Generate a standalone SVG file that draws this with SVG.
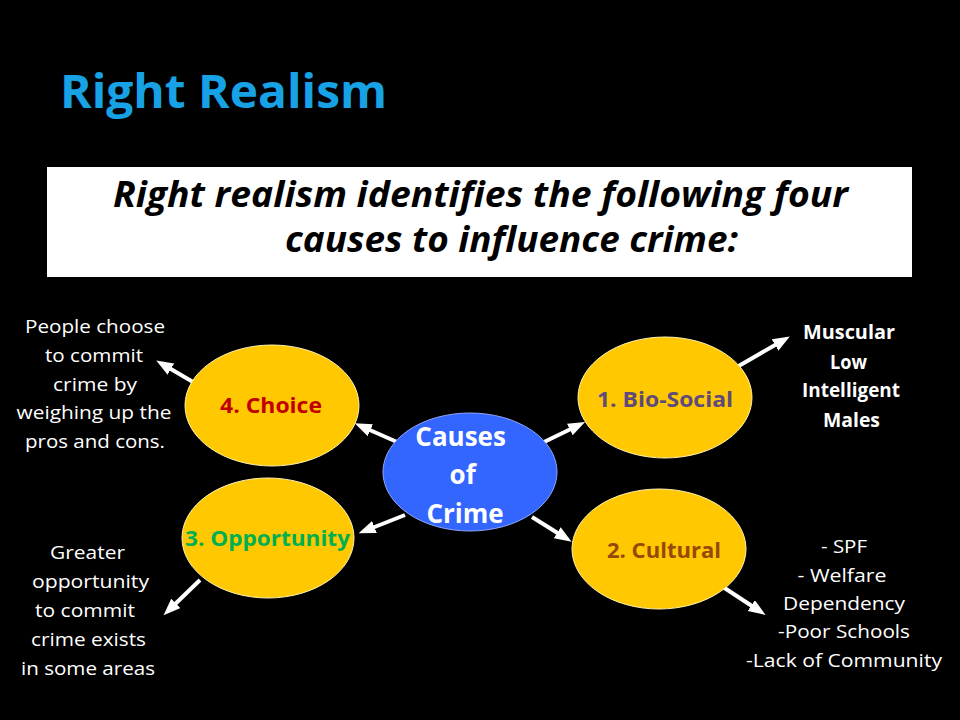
<svg xmlns="http://www.w3.org/2000/svg" width="960" height="720" viewBox="0 0 960 720">
<defs>
<marker id="ah" markerUnits="userSpaceOnUse" markerWidth="18" markerHeight="14" refX="8" refY="6.5" orient="auto">
<path d="M0,0 L17,6.5 L0,13 z" fill="#ffffff"/>
</marker>
<style>
.f{font-family:"Open Sans","Noto Sans","Liberation Sans",sans-serif}
.note{font-family:"Open Sans","Noto Sans","Liberation Sans",sans-serif;font-size:19px;fill:#ffffff;text-anchor:middle}
.noteb{font-family:"Open Sans","Noto Sans","Liberation Sans",sans-serif;font-size:19px;font-weight:bold;fill:#ffffff;text-anchor:middle}
.gold{fill:#ffc800;stroke:#fff2b0;stroke-width:1}
.lbl{font-family:"Open Sans","Noto Sans","Liberation Sans",sans-serif;font-size:21px;font-weight:bold;text-anchor:middle}
.conn line{stroke:#ffffff;stroke-width:4;marker-end:url(#ah)}
</style>
</defs>
<rect x="0" y="0" width="960" height="720" fill="#000000"/>
<g id="title">
<text class="f" x="60" y="108" font-size="46" font-weight="bold" fill="#17a2e6" textLength="327" lengthAdjust="spacingAndGlyphs">Right Realism</text>
</g>
<g id="banner">
<rect x="47" y="167" width="865" height="110" fill="#ffffff"/>
<text class="f" x="113" y="207" font-size="35" font-weight="bold" font-style="italic" fill="#000000" textLength="735" lengthAdjust="spacingAndGlyphs">Right realism identifies the following four</text>
<text class="f" x="285" y="252" font-size="35" font-weight="bold" font-style="italic" fill="#000000" textLength="453" lengthAdjust="spacingAndGlyphs">causes to influence crime:</text>
</g>
<g class="conn" id="connectors">
<line x1="397" y1="442" x2="363" y2="427"/>
<line x1="405" y1="515" x2="367" y2="530"/>
<line x1="193" y1="382" x2="164" y2="365"/>
<line x1="200" y1="580" x2="170" y2="609"/>
<line x1="542" y1="443" x2="577" y2="426"/>
<line x1="532" y1="517" x2="564" y2="537"/>
<line x1="737" y1="367" x2="782" y2="341"/>
<line x1="723" y1="587" x2="758" y2="610"/>
</g>
<g id="causes">
<ellipse cx="470" cy="472" rx="87" ry="59" fill="#3366ff" stroke="#8fa8ff" stroke-width="1"/>
<text class="f" font-size="26" font-weight="bold" fill="#ffffff" text-anchor="middle">
<tspan x="464" y="446">Causes</tspan>
<tspan x="466" y="484">of</tspan>
<tspan x="465" y="523">Crime</tspan>
</text>
</g>
<g id="choice">
<ellipse class="gold" cx="272" cy="405.5" rx="87" ry="60.5"/>
<text class="lbl" x="271" y="413" fill="#c00000" textLength="102" lengthAdjust="spacingAndGlyphs">4. Choice</text>
</g>
<g id="opportunity">
<ellipse class="gold" cx="268" cy="538" rx="86" ry="60"/>
<text class="lbl" x="267.5" y="546" fill="#00b050" textLength="165" lengthAdjust="spacingAndGlyphs">3. Opportunity</text>
</g>
<g id="biosocial">
<ellipse class="gold" cx="665" cy="397.5" rx="87" ry="60.5"/>
<text class="lbl" x="665" y="407" fill="#604a7b" textLength="136" lengthAdjust="spacingAndGlyphs">1. Bio-Social</text>
</g>
<g id="cultural">
<ellipse class="gold" cx="659" cy="549" rx="87" ry="60"/>
<text class="lbl" x="664" y="558" fill="#984806" textLength="114" lengthAdjust="spacingAndGlyphs">2. Cultural</text>
</g>
<g id="note-choice">
<text class="note" x="95" y="333" textLength="140" lengthAdjust="spacingAndGlyphs">People choose</text>
<text class="note" x="94" y="362" textLength="98" lengthAdjust="spacingAndGlyphs">to commit</text>
<text class="note" x="95" y="391" textLength="84" lengthAdjust="spacingAndGlyphs">crime by</text>
<text class="note" x="94" y="419" textLength="155" lengthAdjust="spacingAndGlyphs">weighing up the</text>
<text class="note" x="95" y="448" textLength="140" lengthAdjust="spacingAndGlyphs">pros and cons.</text>
</g>
<g id="note-opportunity">
<text class="note" x="87.5" y="559" textLength="75" lengthAdjust="spacingAndGlyphs">Greater</text>
<text class="note" x="90.5" y="588" textLength="117" lengthAdjust="spacingAndGlyphs">opportunity</text>
<text class="note" x="85" y="617" textLength="100" lengthAdjust="spacingAndGlyphs">to commit</text>
<text class="note" x="88.5" y="646" textLength="115" lengthAdjust="spacingAndGlyphs">crime exists</text>
<text class="note" x="88" y="675" textLength="134" lengthAdjust="spacingAndGlyphs">in some areas</text>
</g>
<g id="note-biosocial">
<text class="noteb" x="849" y="339" textLength="92" lengthAdjust="spacingAndGlyphs">Muscular</text>
<text class="noteb" x="848.5" y="369" textLength="37" lengthAdjust="spacingAndGlyphs">Low</text>
<text class="noteb" x="851" y="397" textLength="98" lengthAdjust="spacingAndGlyphs">Intelligent</text>
<text class="noteb" x="851.5" y="427" textLength="57" lengthAdjust="spacingAndGlyphs">Males</text>
</g>
<g id="note-cultural">
<text class="note" x="844" y="553" textLength="46" lengthAdjust="spacingAndGlyphs">- SPF</text>
<text class="note" x="842" y="582" textLength="89" lengthAdjust="spacingAndGlyphs">- Welfare</text>
<text class="note" x="844" y="610" textLength="122" lengthAdjust="spacingAndGlyphs">Dependency</text>
<text class="note" x="844" y="638" textLength="132" lengthAdjust="spacingAndGlyphs">-Poor Schools</text>
<text class="note" x="844" y="667" textLength="196" lengthAdjust="spacingAndGlyphs">-Lack of Community</text>
</g>
</svg>
